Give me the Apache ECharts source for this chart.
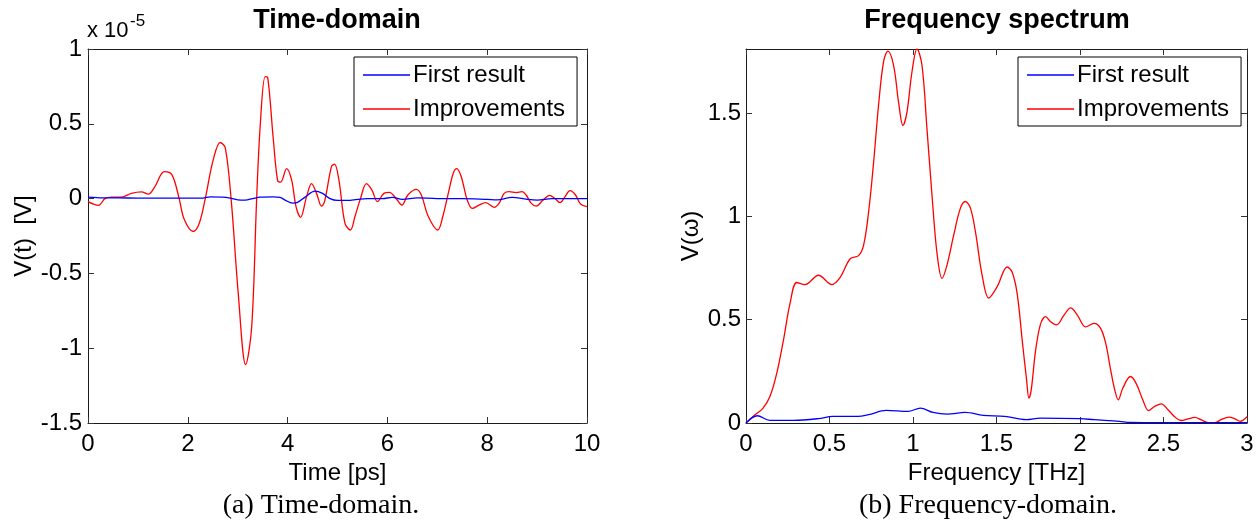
<!DOCTYPE html>
<html>
<head>
<meta charset="utf-8">
<script src="https://cdn.jsdelivr.net/npm/echarts@6/dist/echarts.min.js"></script>
<style>
  html, body { margin: 0; padding: 0; background: #fff; }
  #chart { width: 1259px; height: 522px; }
</style>
</head>
<body>
<div id="chart"></div>
<script>
// Time-domain signal, voltage in units of 1e-5 V, time in ps
const timeFirst = [
  [0, 0.01], [0.3, 0.005], [0.6, 0.005], [1.0, 0.003], [1.5, 0.003], [2.0, 0.003],
  [2.3, 0.003], [2.45, 0.012], [2.7, 0.01], [2.85, 0.003], [3.0, -0.008], [3.15, -0.01],
  [3.3, 0.0], [3.45, 0.01], [3.7, 0.012], [3.85, 0.008], [3.95, -0.01], [4.1, -0.03],
  [4.2, -0.025], [4.35, 0.01], [4.55, 0.05], [4.7, 0.035], [4.85, 0.0], [5.0, -0.012],
  [5.2, -0.012], [5.4, -0.005], [5.6, 0.0], [5.9, 0.0], [6.1, 0.008], [6.3, -0.005],
  [6.6, 0.005], [7.0, 0.0], [7.5, 0.0], [8.0, -0.005], [8.2, -0.008], [8.5, 0.008],
  [8.8, -0.005], [9.0, -0.01], [9.3, 0.0], [10, 0.0]
];
const timeImproved = [
  [0, -0.02], [0.21, -0.045], [0.34, 0.0], [0.47, 0.01], [0.67, 0.01], [0.87, 0.035],
  [1.07, 0.045], [1.21, 0.03], [1.34, 0.08], [1.53, 0.18], [1.68, 0.16], [1.82, 0.01],
  [1.93, -0.14], [2.11, -0.22], [2.23, -0.165], [2.35, 0.0], [2.51, 0.26], [2.65, 0.375],
  [2.75, 0.34], [2.87, -0.01], [3.01, -0.63], [3.16, -1.11], [3.28, -0.86], [3.38, 0.0],
  [3.45, 0.48], [3.55, 0.815], [3.6, 0.81], [3.71, 0.41], [3.80, 0.12], [3.86, 0.11],
  [3.98, 0.2], [4.08, 0.125], [4.17, -0.055], [4.26, -0.125], [4.38, 0.013], [4.48, 0.10],
  [4.58, 0.035], [4.68, -0.05], [4.74, -0.02], [4.88, 0.215], [4.94, 0.23], [5.03, 0.12],
  [5.15, -0.165], [5.26, -0.21], [5.35, -0.12], [5.46, 0.0], [5.58, 0.1], [5.69, 0.057],
  [5.80, -0.02], [5.93, 0.035], [6.04, 0.042], [6.17, 0.002], [6.29, -0.043], [6.41, 0.024],
  [6.58, 0.062], [6.68, 0.024], [6.82, -0.12], [7.01, -0.21], [7.11, -0.12], [7.22, 0.035],
  [7.32, 0.17], [7.39, 0.2], [7.48, 0.146], [7.60, -0.01], [7.70, -0.065], [7.84, -0.043],
  [7.97, -0.027], [8.14, -0.058], [8.24, -0.03], [8.34, 0.035], [8.44, 0.046], [8.58, 0.04],
  [8.70, 0.046], [8.78, 0.024], [8.88, -0.03], [8.98, -0.05], [9.12, -0.01], [9.25, 0.022],
  [9.35, 0.002], [9.46, -0.027], [9.56, 0.013], [9.66, 0.053], [9.77, 0.024], [9.87, -0.036],
  [10, -0.054]
];

// Spectrum magnitude, frequency in THz
const freqFirst = [
  [0, 0], [0.068, 0.035], [0.143, 0.013], [0.283, 0.013], [0.433, 0.021], [0.52, 0.032],
  [0.67, 0.032], [0.733, 0.04], [0.84, 0.061], [0.97, 0.056], [1.044, 0.072], [1.12, 0.051],
  [1.205, 0.043], [1.312, 0.051], [1.42, 0.037], [1.549, 0.032], [1.678, 0.016], [1.763, 0.024],
  [1.999, 0.021], [2.085, 0.016], [2.236, 0.008], [2.3, 0.003], [2.5, 0.002], [3.0, 0.002]
];
const freqImproved = [
  [0, 0], [0.054, 0.04], [0.10, 0.07], [0.144, 0.13], [0.184, 0.24], [0.224, 0.40],
  [0.264, 0.58], [0.304, 0.68], [0.354, 0.67], [0.434, 0.715], [0.514, 0.67], [0.564, 0.705],
  [0.624, 0.795], [0.674, 0.81], [0.704, 0.86], [0.734, 1.02], [0.764, 1.26], [0.794, 1.54],
  [0.824, 1.75], [0.85, 1.80], [0.884, 1.73], [0.914, 1.55], [0.94, 1.44], [0.964, 1.505],
  [0.994, 1.70], [1.024, 1.81], [1.054, 1.73], [1.084, 1.42], [1.114, 1.10], [1.144, 0.82],
  [1.174, 0.70], [1.204, 0.765], [1.244, 0.91], [1.284, 1.04], [1.314, 1.072], [1.344, 1.04],
  [1.374, 0.925], [1.414, 0.715], [1.454, 0.605], [1.504, 0.66], [1.564, 0.755], [1.594, 0.73],
  [1.624, 0.625], [1.654, 0.40], [1.68, 0.21], [1.694, 0.12], [1.708, 0.16], [1.734, 0.35],
  [1.764, 0.48], [1.794, 0.515], [1.824, 0.49], [1.86, 0.475], [1.904, 0.522], [1.944, 0.557],
  [1.984, 0.522], [2.034, 0.465], [2.084, 0.482], [2.124, 0.457], [2.154, 0.385], [2.184, 0.255],
  [2.208, 0.16], [2.229, 0.112], [2.256, 0.168], [2.302, 0.225], [2.336, 0.192], [2.377, 0.11],
  [2.41, 0.06], [2.447, 0.08], [2.487, 0.093], [2.527, 0.064], [2.567, 0.03], [2.604, 0.012],
  [2.647, 0.02], [2.687, 0.027], [2.727, 0.015], [2.768, 0.002], [2.808, 0.002], [2.848, 0.018],
  [2.892, 0.028], [2.928, 0.02], [2.959, 0.008], [3.0, 0.03]
];

const seriesNames = ['First result', 'Improvements'];
const timeTicks = { min: 0, max: 10, interval: 2 };
const voltTicks = { min: -1.5, max: 1, interval: 0.5 };
const freqTicks = { min: 0, max: 3, interval: 0.5 };
const specTicks = { min: 0, max: 1.81, interval: 0.5 };

const SANS = '"Liberation Sans", Arial, Helvetica, sans-serif';
const SERIF = '"Liberation Serif", "Times New Roman", serif';
const AXIS_COLOR = '#1a1a1a';

function frameAxis(gridIndex, position, scale, showLabels, extra) {
  return Object.assign({
    type: 'value',
    gridIndex: gridIndex,
    position: position,
    min: scale.min,
    max: scale.max,
    interval: scale.interval,
    axisLine: { show: true, onZero: false, lineStyle: { color: AXIS_COLOR, width: 1 } },
    axisTick: { show: true, inside: true, length: 6, lineStyle: { color: '#333', width: 1 } },
    splitLine: { show: false },
    axisLabel: {
      show: showLabels,
      color: '#000',
      fontSize: 24,
      fontFamily: SANS
    },
    nameTextStyle: { color: '#000', fontSize: 24, fontFamily: SANS, lineHeight: 24 }
  }, extra || {});
}

const chart = echarts.init(document.getElementById('chart'), null, { renderer: 'canvas' });

const lineBase = {
  type: 'line',
  showSymbol: false,
  symbol: 'none',
  smooth: 0.35,
  clip: true,
  animation: false
};

function legendBox(left) {
  return {
    data: seriesNames,
    left: left,
    top: 57,
    orient: 'vertical',
    icon: 'rect',
    itemWidth: 47,
    itemHeight: 1.6,
    itemGap: 8,
    selectedMode: false,
    backgroundColor: '#fff',
    borderColor: '#000',
    borderWidth: 1,
    borderRadius: 0,
    padding: [5, 12, 4, 9],
    textStyle: { color: '#000', fontSize: 24, fontFamily: SANS, lineHeight: 26, padding: [0, 0, 0, -2] }
  };
}

chart.setOption({
  animation: false,
  backgroundColor: '#fff',
  grid: [
    { left: 88, top: 49, width: 499, height: 374 },
    { left: 746, top: 49, width: 501, height: 374 }
  ],
  xAxis: [
    frameAxis(0, 'bottom', timeTicks, true, {
      name: 'Time [ps]', nameLocation: 'middle', nameGap: 32,
      axisLabel: { show: true, color: '#000', fontSize: 24, fontFamily: SANS, margin: 9 }
    }),
    frameAxis(0, 'top', timeTicks, false),
    frameAxis(1, 'bottom', freqTicks, true, {
      name: 'Frequency [THz]', nameLocation: 'middle', nameGap: 32,
      axisLabel: { show: true, color: '#000', fontSize: 24, fontFamily: SANS, margin: 9 }
    }),
    frameAxis(1, 'top', freqTicks, false)
  ],
  yAxis: [
    frameAxis(0, 'left', voltTicks, true, {
      name: 'V(t)  [V]', nameLocation: 'middle', nameGap: 52,
      axisLabel: { show: true, color: '#000', fontSize: 24, fontFamily: SANS, margin: 6 }
    }),
    frameAxis(0, 'right', voltTicks, false),
    frameAxis(1, 'left', specTicks, true, {
      name: 'V(\u03c9)', nameLocation: 'middle', nameGap: 43,
      axisLabel: { show: true, color: '#000', fontSize: 24, fontFamily: SANS, margin: 5, showMaxLabel: false }
    }),
    frameAxis(1, 'right', specTicks, false)
  ],
  legend: [legendBox(354), legendBox(1018)],
  series: [
    Object.assign({}, lineBase, {
      name: seriesNames[0], xAxisIndex: 0, yAxisIndex: 0, data: timeFirst,
      color: '#0000ff', lineStyle: { color: '#0000ff', width: 1.3 }, z: 3
    }),
    Object.assign({}, lineBase, {
      name: seriesNames[1], xAxisIndex: 0, yAxisIndex: 0, data: timeImproved,
      color: '#ff0000', lineStyle: { color: '#ff0000', width: 1.3 }, z: 2
    }),
    Object.assign({}, lineBase, {
      name: seriesNames[0], xAxisIndex: 2, yAxisIndex: 2, data: freqFirst,
      color: '#0000ff', lineStyle: { color: '#0000ff', width: 1.3 }, z: 3
    }),
    Object.assign({}, lineBase, {
      name: seriesNames[1], xAxisIndex: 2, yAxisIndex: 2, data: freqImproved,
      color: '#ff0000', lineStyle: { color: '#ff0000', width: 1.3 }, z: 2
    })
  ],
  graphic: [
    { type: 'text', style: { text: 'Time-domain', x: 337, y: 21, align: 'center', verticalAlign: 'middle',
        fontSize: 27, fontWeight: 'bold', fontFamily: SANS, fill: '#000' } },
    { type: 'text', style: { text: 'Frequency spectrum', x: 997, y: 21, align: 'center', verticalAlign: 'middle',
        fontSize: 27, fontWeight: 'bold', fontFamily: SANS, fill: '#000' } },
    // axis multiplier for the time-domain voltage
    { type: 'text', style: { text: 'x 10', x: 87, y: 31, align: 'left', verticalAlign: 'middle',
        fontSize: 22, fontFamily: SANS, fill: '#000' } },
    { type: 'text', style: { text: '-5', x: 130, y: 21, align: 'left', verticalAlign: 'middle',
        fontSize: 17, fontFamily: SANS, fill: '#000' } },
    { type: 'text', style: { text: '(a) Time-domain.', x: 321, y: 506, align: 'center', verticalAlign: 'middle',
        fontSize: 28, fontFamily: SERIF, fill: '#000' } },
    { type: 'text', style: { text: '(b) Frequency-domain.', x: 988, y: 506, align: 'center', verticalAlign: 'middle',
        fontSize: 28, fontFamily: SERIF, fill: '#000' } }
  ]
});
</script>
</body>
</html>
